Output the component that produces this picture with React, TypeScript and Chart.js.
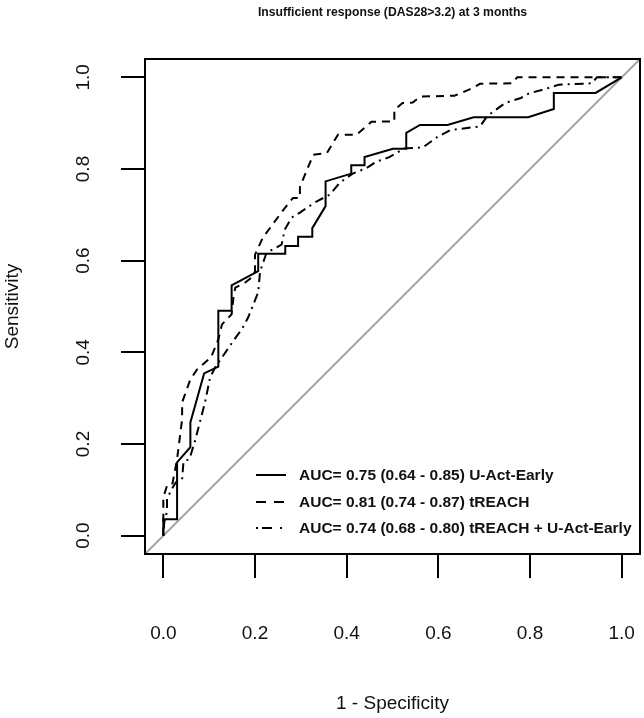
import React, { useEffect, useRef } from 'react';
import { Chart, registerables } from 'chart.js';

Chart.register(...registerables);

// U-Act-Early (solid)
const uactFpr = [0, 0, 0.030, 0.030, 0.059, 0.059, 0.089, 0.120, 0.120, 0.149, 0.149, 0.207, 0.207, 0.266, 0.266, 0.294, 0.294, 0.325, 0.325, 0.354, 0.354, 0.410, 0.410, 0.439, 0.439, 0.501, 0.530, 0.530, 0.560, 0.620, 0.677, 0.796, 0.852, 0.852, 0.943, 1];
const uactTpr = [0, 0.036, 0.036, 0.160, 0.193, 0.247, 0.354, 0.369, 0.491, 0.491, 0.546, 0.577, 0.615, 0.615, 0.632, 0.632, 0.652, 0.652, 0.671, 0.719, 0.773, 0.790, 0.808, 0.808, 0.826, 0.844, 0.844, 0.879, 0.896, 0.896, 0.913, 0.913, 0.931, 0.966, 0.966, 1];

// tREACH (dashed)
const treachFpr = [0, 0, 0.009, 0.020, 0.030, 0.041, 0.041, 0.059, 0.074, 0.104, 0.120, 0.128, 0.149, 0.153, 0.157, 0.178, 0.196, 0.200, 0.200, 0.217, 0.262, 0.283, 0.298, 0.298, 0.327, 0.357, 0.381, 0.422, 0.454, 0.504, 0.504, 0.522, 0.544, 0.561, 0.635, 0.667, 0.691, 0.761, 0.772, 1];
const treachTpr = [0, 0.084, 0.112, 0.114, 0.167, 0.254, 0.291, 0.341, 0.363, 0.389, 0.428, 0.461, 0.483, 0.520, 0.541, 0.552, 0.566, 0.577, 0.613, 0.650, 0.711, 0.737, 0.737, 0.761, 0.831, 0.835, 0.875, 0.875, 0.903, 0.904, 0.929, 0.944, 0.945, 0.958, 0.960, 0.973, 0.986, 0.987, 1, 1];

// tREACH + U-Act-Early (dot-dash)
const comboFpr = [0, 0.002, 0.008, 0.008, 0.015, 0.022, 0.028, 0.041, 0.044, 0.057, 0.070, 0.091, 0.102, 0.113, 0.137, 0.152, 0.171, 0.185, 0.207, 0.211, 0.225, 0.258, 0.265, 0.280, 0.298, 0.334, 0.363, 0.385, 0.413, 0.443, 0.465, 0.493, 0.526, 0.566, 0.598, 0.626, 0.691, 0.707, 0.746, 0.780, 0.798, 0.835, 0.863, 0.935, 0.946, 1];
const comboTpr = [0, 0.029, 0.053, 0.080, 0.095, 0.108, 0.117, 0.123, 0.162, 0.167, 0.210, 0.291, 0.345, 0.367, 0.402, 0.424, 0.450, 0.476, 0.531, 0.576, 0.617, 0.635, 0.668, 0.694, 0.705, 0.729, 0.744, 0.770, 0.790, 0.802, 0.816, 0.826, 0.845, 0.847, 0.870, 0.885, 0.893, 0.916, 0.944, 0.955, 0.965, 0.975, 0.984, 0.987, 1, 1];

const diagonal = [-0.04, 1.04];

const tickValues = [0, 0.2, 0.4, 0.6, 0.8, 1.0];
const tickLabels = ['0.0', '0.2', '0.4', '0.6', '0.8', '1.0'];

const legendLabels = [
  'AUC= 0.75 (0.64 - 0.85) U-Act-Early',
  'AUC= 0.81 (0.74 - 0.87) tREACH',
  'AUC= 0.74 (0.68 - 0.80) tREACH + U-Act-Early',
];
const legendDashes = [[], [10, 8], [2, 4, 10, 8]];

const chartTitle = 'Insufficient response (DAS28>3.2) at 3 months';
const xTitle = '1 - Specificity';
const yTitle = 'Sensitivity';

const FONT = '"Liberation Sans", Arial, Helvetica, sans-serif';
const TEXT = '#111';

const toPoints = (xs: number[], ys: number[]) => xs.map((x, i) => ({ x, y: ys[i] }));

export default function App() {
  const ref = useRef<HTMLCanvasElement>(null);

  useEffect(() => {
    const canvas = ref.current;
    if (!canvas) return;

    const decor = {
      id: 'decor',
      afterDraw(chart: any) {
        const { ctx, chartArea: a, scales } = chart;
        const xs = scales.x;
        const ys = scales.y;
        ctx.save();
        ctx.setLineDash([]);
        ctx.strokeStyle = '#000';
        ctx.lineWidth = 2;
        // box
        ctx.strokeRect(a.left, a.top, a.right - a.left, a.bottom - a.top);
        // ticks
        ctx.beginPath();
        tickValues.forEach((v) => {
          const px = Math.round(xs.getPixelForValue(v));
          ctx.moveTo(px, a.bottom);
          ctx.lineTo(px, a.bottom + 24);
          const py = Math.round(ys.getPixelForValue(v));
          ctx.moveTo(a.left, py);
          ctx.lineTo(a.left - 24, py);
        });
        ctx.stroke();

        // tick labels
        ctx.fillStyle = TEXT;
        ctx.font = `19px ${FONT}`;
        ctx.textAlign = 'center';
        ctx.textBaseline = 'middle';
        tickValues.forEach((v, i) => {
          ctx.fillText(tickLabels[i], xs.getPixelForValue(v), 634);
        });
        tickValues.forEach((v, i) => {
          ctx.save();
          ctx.translate(84, ys.getPixelForValue(v));
          ctx.rotate(-Math.PI / 2);
          ctx.fillText(tickLabels[i], 0, 0);
          ctx.restore();
        });

        // axis titles
        ctx.font = `19px ${FONT}`;
        ctx.fillText(xTitle, (a.left + a.right) / 2, 704);
        ctx.save();
        ctx.translate(13, (a.top + a.bottom) / 2);
        ctx.rotate(-Math.PI / 2);
        ctx.fillText(yTitle, 0, 0);
        ctx.restore();

        // main title
        ctx.font = `bold 12.2px ${FONT}`;
        ctx.fillText(chartTitle, (a.left + a.right) / 2, 13);

        // legend
        const rowsY = [475, 502, 528];
        legendLabels.forEach((label, i) => {
          ctx.save();
          ctx.strokeStyle = '#000';
          ctx.lineWidth = 2;
          ctx.setLineDash(legendDashes[i]);
          ctx.beginPath();
          ctx.moveTo(256, rowsY[i]);
          ctx.lineTo(286, rowsY[i]);
          ctx.stroke();
          ctx.restore();
          ctx.font = `bold 15.5px ${FONT}`;
          ctx.textAlign = 'left';
          ctx.textBaseline = 'middle';
          ctx.fillStyle = TEXT;
          ctx.fillText(label, 299, rowsY[i] + 1);
        });
        ctx.restore();
      },
    };

    const chart = new Chart(canvas, {
      type: 'line',
      data: {
        datasets: [
          {
            label: 'diagonal',
            data: toPoints(diagonal, diagonal),
            borderColor: '#a6a6a6',
            borderWidth: 2,
            pointRadius: 0,
            order: 10,
          },
          {
            label: legendLabels[0],
            data: toPoints(uactFpr, uactTpr),
            borderColor: '#000',
            borderWidth: 2,
            pointRadius: 0,
            order: 1,
          },
          {
            label: legendLabels[1],
            data: toPoints(treachFpr, treachTpr),
            borderColor: '#000',
            borderWidth: 2,
            borderDash: [8, 6],
            pointRadius: 0,
            order: 2,
          },
          {
            label: legendLabels[2],
            data: toPoints(comboFpr, comboTpr),
            borderColor: '#000',
            borderWidth: 2,
            borderDash: [2, 5, 9, 5],
            pointRadius: 0,
            order: 3,
          },
        ],
      },
      options: {
        responsive: false,
        maintainAspectRatio: false,
        devicePixelRatio: 1,
        animation: false,
        parsing: true,
        elements: { line: { tension: 0, fill: false } },
        layout: { padding: { left: 145, top: 59, right: 4, bottom: 164 } },
        scales: {
          x: { type: 'linear', min: -0.04, max: 1.04, display: false },
          y: { type: 'linear', min: -0.04, max: 1.04, display: false },
        },
        plugins: {
          legend: { display: false },
          tooltip: { enabled: false },
          title: { display: false },
        },
      },
      plugins: [decor],
    });

    return () => chart.destroy();
  }, []);

  return (
    <div style={{ position: 'absolute', left: 0, top: 0, width: 644, height: 718, background: '#fff' }}>
      <canvas ref={ref} width={644} height={718} style={{ display: 'block', width: 644, height: 718 }} />
    </div>
  );
}
